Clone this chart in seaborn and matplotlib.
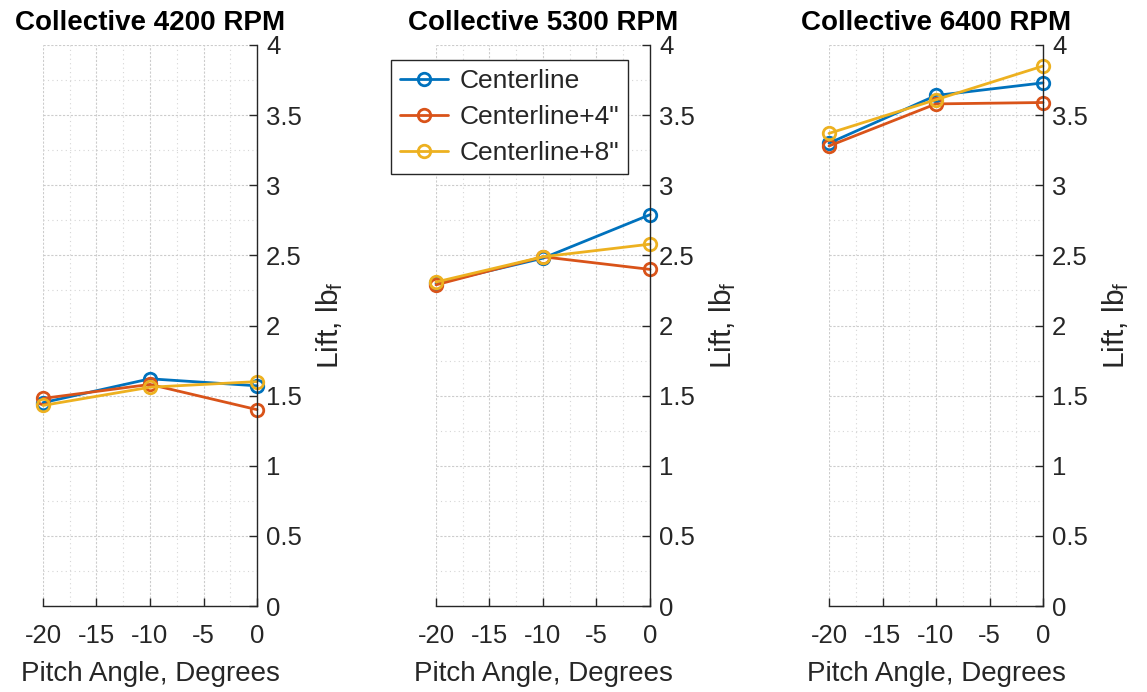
import numpy as np
import pandas as pd
import matplotlib
matplotlib.use("Agg")
import matplotlib.pyplot as plt
from matplotlib.ticker import MultipleLocator, FuncFormatter
import seaborn as sns

pitch = [-20, -10, 0]
series = ["Centerline", "Centerline+4\"", "Centerline+8\""]
titles = ["Collective 4200 RPM", "Collective 5300 RPM", "Collective 6400 RPM"]

lift_4200_center = [1.45, 1.62, 1.57]
lift_4200_plus4 = [1.48, 1.58, 1.40]
lift_4200_plus8 = [1.43, 1.56, 1.60]

lift_5300_center = [2.30, 2.48, 2.79]
lift_5300_plus4 = [2.29, 2.49, 2.40]
lift_5300_plus8 = [2.31, 2.49, 2.58]

lift_6400_center = [3.30, 3.64, 3.73]
lift_6400_plus4 = [3.28, 3.58, 3.59]
lift_6400_plus8 = [3.37, 3.61, 3.85]

panels = [
    [lift_4200_center, lift_4200_plus4, lift_4200_plus8],
    [lift_5300_center, lift_5300_plus4, lift_5300_plus8],
    [lift_6400_center, lift_6400_plus4, lift_6400_plus8],
]
colors = ["#0072BD", "#D95319", "#EDB120"]

sns.set_theme(style="white")
plt.rcParams["font.family"] = ["Liberation Sans", "DejaVu Sans"]
plt.rcParams["mathtext.fontset"] = "custom"
plt.rcParams["mathtext.rm"] = "Liberation Sans"
plt.rcParams["mathtext.it"] = "Liberation Sans"
plt.rcParams["axes.unicode_minus"] = False

fig = plt.figure(figsize=(11.47, 6.92), dpi=100)
lefts = [43 / 1147, 436 / 1147, 829 / 1147]
bottom = 1 - 606 / 692
width = 214 / 1147
height = (606 - 45) / 692

fs = 20
tfs = 18.5
axes = []
for i in range(3):
    ax = fig.add_axes([lefts[i], bottom, width, height])
    rows = []
    for s, vals in zip(series, panels[i]):
        for p, v in zip(pitch, vals):
            rows.append({"pitch": p, "lift": v, "series": s})
    df = pd.DataFrame(rows)
    sns.lineplot(data=df, x="pitch", y="lift", hue="series", hue_order=series,
                 palette=colors, marker="o", linewidth=2, legend=False, ax=ax,
                 markersize=9)
    for ln, c in zip(ax.lines, colors):
        ln.set_markerfacecolor("none")
        ln.set_markeredgecolor(c)
        ln.set_markeredgewidth(2)
        ln.set_clip_on(False)
    ax.set_xlim(-20, 0)
    ax.set_ylim(0, 4)
    ax.xaxis.set_major_locator(MultipleLocator(5))
    ax.xaxis.set_minor_locator(MultipleLocator(2.5))
    ax.yaxis.set_major_locator(MultipleLocator(0.5))
    ax.yaxis.set_minor_locator(MultipleLocator(0.25))
    ax.yaxis.set_major_formatter(FuncFormatter(lambda v, p: "%g" % v))
    ax.xaxis.set_major_formatter(FuncFormatter(lambda v, p: "%g" % v))
    ax.yaxis.tick_right()
    ax.yaxis.set_label_position("right")
    ax.tick_params(axis="both", which="major", direction="in", length=6,
                   width=1, labelsize=tfs, colors="#262626")
    ax.tick_params(axis="x", which="major", pad=13, top=False, bottom=True)
    ax.tick_params(axis="y", which="major", pad=6.5, left=False, right=True)
    ax.tick_params(axis="both", which="minor", length=0)
    ax.grid(True, which="major", color="#cccccc", linewidth=0.8, linestyle=(0, (2, 1.5)))
    ax.grid(True, which="minor", color="#d6d6d6", linewidth=0.8, linestyle=(0, (1, 3)))
    ax.set_axisbelow(True)
    for sp in ["left", "top"]:
        ax.spines[sp].set_visible(False)
    for sp in ["right", "bottom"]:
        ax.spines[sp].set_visible(True)
        ax.spines[sp].set_color("#262626")
        ax.spines[sp].set_linewidth(1)
    ax.set_xlabel("Pitch Angle, Degrees", fontsize=fs, color="#262626", labelpad=9)
    ax.set_ylabel(r"Lift, lb$_\mathregular{f}$", fontsize=21.5, color="#262626", labelpad=9)
    ax.set_title(titles[i], fontsize=fs, fontweight="bold", color="black", pad=11)
    axes.append(ax)

handles = axes[1].lines[:3]
leg = axes[1].legend(handles, series, loc="upper left",
                     bbox_to_anchor=((391 - 436) / 214, (606 - 60) / 561),
                     fontsize=19, frameon=True, fancybox=False,
                     edgecolor="#262626", framealpha=1, handlelength=1.8,
                     borderpad=0.35, labelspacing=0.45, handletextpad=0.45,
                     borderaxespad=0)
leg.get_frame().set_linewidth(1)

fig.savefig("out.png", dpi=100)
